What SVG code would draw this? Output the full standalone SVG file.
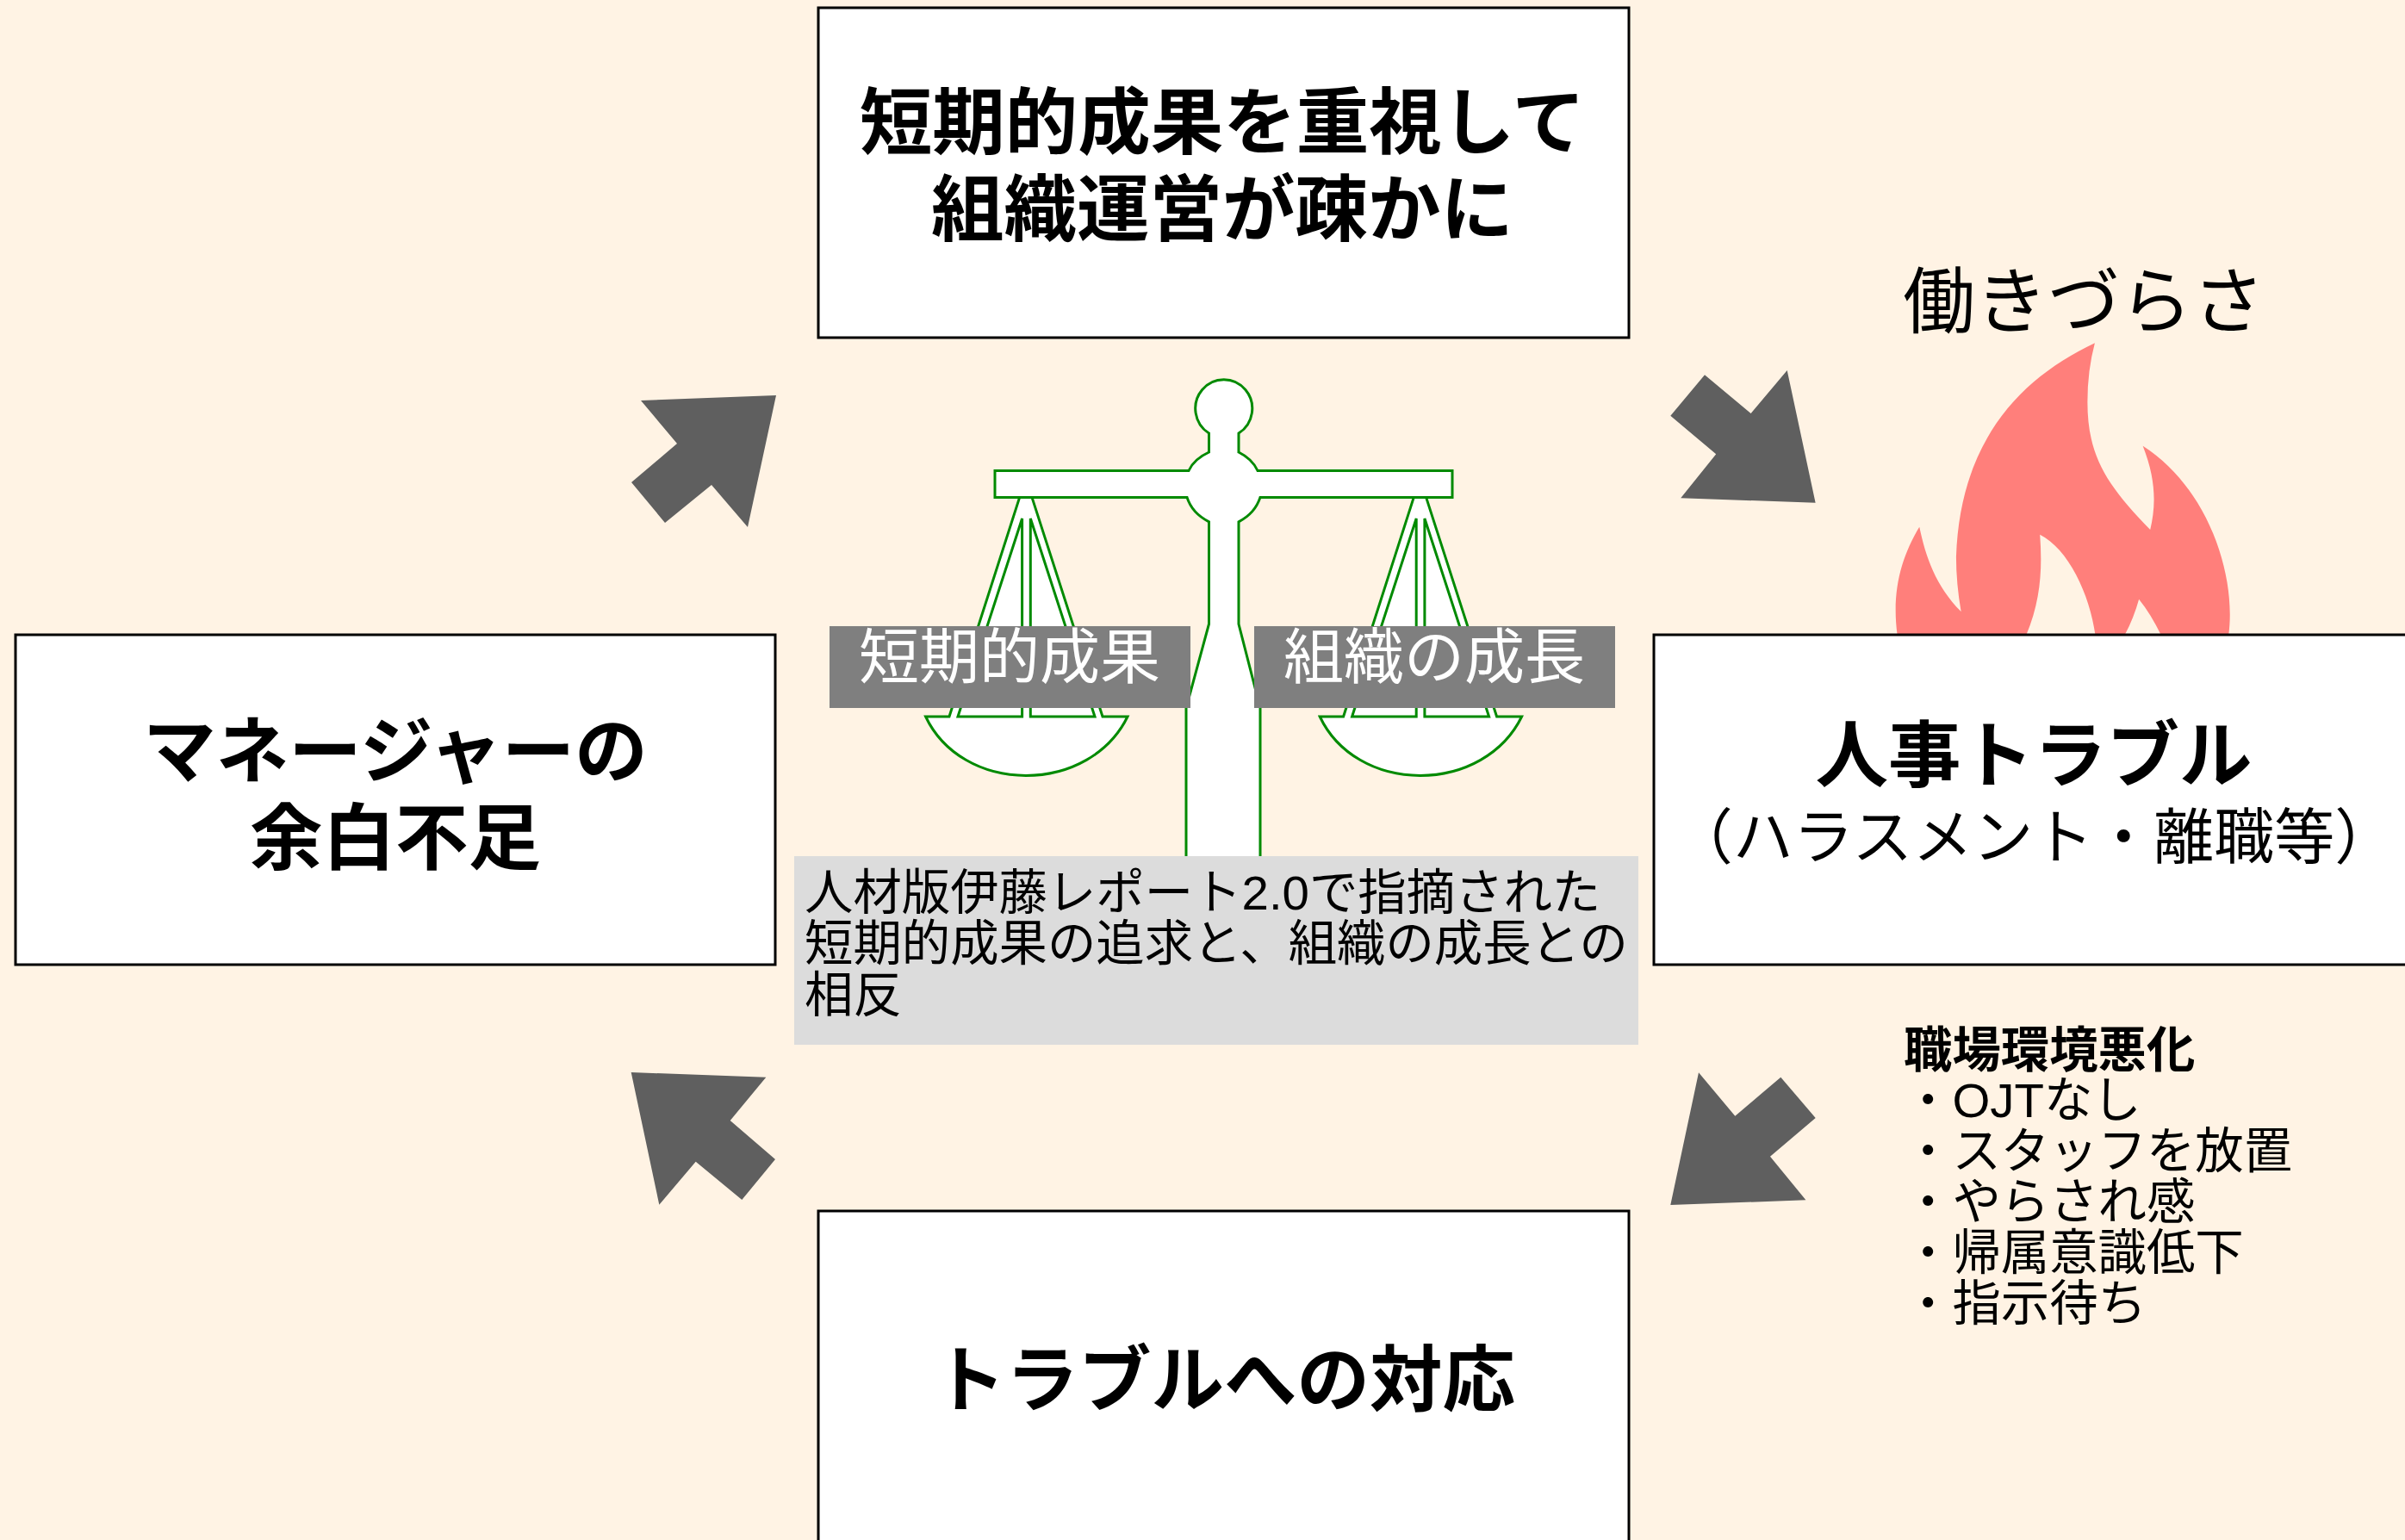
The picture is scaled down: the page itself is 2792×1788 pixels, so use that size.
<svg xmlns="http://www.w3.org/2000/svg" width="2792" height="1788" viewBox="0 0 2792 1788">
<style>
text{font-family:"Liberation Sans","Noto Sans CJK JP",sans-serif;fill:#000}
.box{fill:#fff;stroke:#000;stroke-width:3}
.h{font-size:84.5px;font-weight:700;text-anchor:middle}
.m{font-size:56.4px}
.lab{font-size:70px;fill:#fff;text-anchor:middle}
.sc{fill:#fff;stroke:#008a00;stroke-width:3}
.arrow{fill:#5f5f5f}
</style>
<rect width="2792" height="1788" fill="#fff3e4"/>
<g id="flame"><path transform="translate(1900,270) scale(0.5689,0.33333)" fill="#ff7f7b" d="M935,385C780,510 660,730 652,1130Q652,1220 662,1320C610,1230 590,1130 577,1025C540,1130 520,1250 532,1402L795,1402C825,1280 828,1170 823,1052C880,1100 925,1260 936,1402L996,1402Q1015,1340 1025,1277Q1050,1330 1070,1402L1208,1402C1225,1180 1160,880 1033,743C1060,860 1060,950 1048,1035C960,880 920,780 920,590Q920,480 935,385Z"/></g>
<g id="hataraki"><text x="2419" y="380" font-size="84" text-anchor="middle">働きづらさ</text></g>
<g id="scale">
<path class="sc" d="M1403.5,503A33,33.6 0 1 1 1438,503L1438,525Q1454,533 1460,546.5L1686,546.5L1686,577.4L1463,577.4Q1457,596 1438,605.8L1438,724.5L1463,822L1463,1000L1377,1000L1377,822L1403.5,724.5L1403.5,605.8Q1384,596 1378,577.4L1155,577.4L1155,546.5L1380,546.5Q1386,533 1403.5,525Z"/>
<g id="pan-left"><path class="sc" d="M1183.7,577.4L1102,832L1074.6,832C1095,875 1140,900.4 1191,900.4C1242,900.4 1288,875 1309,832L1280,832L1198,577.4Z"/><path class="sc" d="M1186.6,602L1112,832L1186.6,832ZM1196.3,602L1271,832L1196.3,832Z"/></g>
<g id="pan-right"><path class="sc" d="M1641.3,577.4L1559.6,832L1532.2,832C1552.6,875 1597.6,900.4 1648.6,900.4C1699.6,900.4 1745.6,875 1766.6,832L1737.6,832L1655.6,577.4Z"/><path class="sc" d="M1644.2,602L1569.6,832L1644.2,832ZM1653.9,602L1728.6,832L1653.9,832Z"/></g>
</g>
<g id="label-short"><rect x="963" y="727" width="419" height="95" fill="#7f7f7f"/><text class="lab" x="1172" y="788">短期的成果</text></g>
<g id="label-org"><rect x="1456" y="727" width="419" height="95" fill="#7f7f7f"/><text class="lab" x="1665" y="788">組織の成長</text></g>
<g id="note"><rect x="922" y="994" width="980" height="219" fill="#dcdcdc"/>
<text class="m" x="934" y="1056">人材版伊藤レポート2.0で指摘された</text>
<text class="m" x="934" y="1115">短期的成果の追求と、組織の成長との</text>
<text class="m" x="934" y="1175">相反</text></g>
<g id="top"><rect class="box" x="950" y="9" width="941" height="383"/>
<text class="h" x="1419" y="172">短期的成果を重視して</text>
<text class="h" x="1419" y="273">組織運営が疎かに</text></g>
<g id="left"><rect class="box" x="18" y="737" width="882" height="383"/>
<text class="h" x="459" y="902">マネージャーの</text>
<text class="h" x="459" y="1003">余白不足</text></g>
<g id="right"><rect class="box" x="1920" y="737" width="890" height="383"/>
<text class="h" x="2361" y="907">人事トラブル</text>
<text x="2361" y="997" font-size="70" text-anchor="middle">（ハラスメント・離職等）</text></g>
<g id="bottom"><rect class="box" x="950" y="1406" width="941" height="400"/>
<text class="h" x="1421" y="1632">トラブルへの対応</text></g>
<g id="worse">
<text x="2210" y="1239" font-size="56.4" font-weight="700">職場環境悪化</text>
<text class="m" x="2210" y="1297">・OJTなし</text>
<text class="m" x="2210" y="1356">・スタッフを放置</text>
<text class="m" x="2210" y="1415">・やらされ感</text>
<text class="m" x="2210" y="1474">・帰属意識低下</text>
<text class="m" x="2210" y="1533">・指示待ち</text>
</g>
<g id="connectors">
<polygon class="arrow" points="744,465 901,459 868,612 826,563 772,607 733,560 786,515"/>
<polygon class="arrow" points="2074.7,430 2107.6,583.7 1951.2,578.3 1992.2,527.3 1939.3,482.7 1979,435.3 2032.6,480"/>
<polygon class="arrow" points="1972,1245.3 1939.3,1399 2096.4,1393.3 2055,1342.7 2107.7,1298 2067.3,1250.7 2014.3,1295.7"/>
<polygon class="arrow" points="732.7,1245 889.3,1250.7 847.7,1301 900,1346 861.3,1393 807.7,1348.7 765.3,1398.7"/>
</g>
</svg>
